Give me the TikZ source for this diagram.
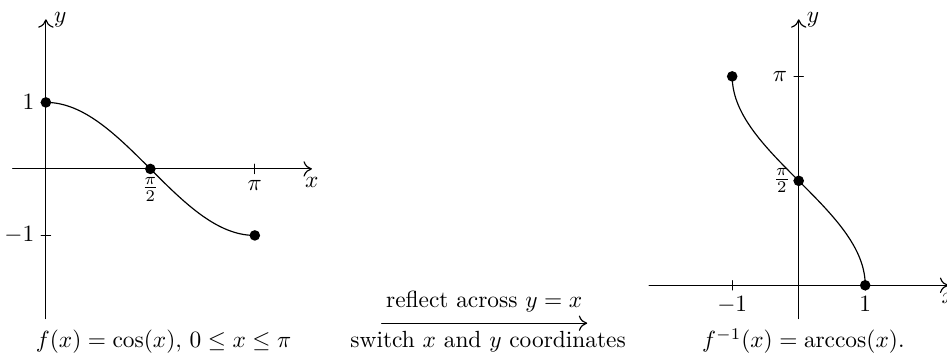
\documentclass[tikz,border=0pt]{standalone}
\usetikzlibrary{arrows.meta}
\begin{document}
\begin{tikzpicture}[>={To[length=3.6pt,width=6.6pt]}, line cap=round, line join=round]

% --- Global TikZ Styles ---
\tikzset{
    axisline/.style={
        ->,
        line width=0.5pt
    },
    graphline/.style={
        line width=0.5pt
    },
    axistick/.style={
        line width=0.5pt
    },
    dotpoint/.style={
        circle,
        fill=black,
        inner sep=1.6pt
    }
}

% vaste afmetingen van het plaatje
\useasboundingbox (-0.69,-2.81) rectangle (13.55,2.54);

% =========================================================================
% --- Links: f(x) = cos(x) ---
% =========================================================================

\pgfmathsetmacro{\tickLen}{0.07}

% --- Assen ---
\coordinate (lxstart) at (-0.5,0);
\coordinate (lxend) at (4,0);
\coordinate (lystart) at (0,-2.25);
\coordinate (lyend) at (0,2.25);

\draw[axisline] (lxstart) -- (lxend);
\draw[axisline] (lystart) -- (lyend);

\node[below] (lxlabel) at (lxend) {$x$};
\node[right] (lylabel) at (lyend) {$y$};

% --- Streepjes ---
\draw[axistick] (-\tickLen,1) -- (\tickLen,1);
\draw[axistick] (-\tickLen,-1) -- (\tickLen,-1);
\draw[axistick] (pi,-\tickLen) -- (pi,\tickLen);

\node[left] (lone) at (-0.05,1) {$1$};
\node[left] (lminone) at (-0.05,-1) {$-1$};
\node[below] (lhalfpi) at ({pi/2},0) {$\frac{\pi}{2}$};
\node[below] (lpi) at (pi,-0.05) {$\pi$};

% --- Grafiek ---
\draw[graphline]
    plot[domain=0:pi, samples=200] (\x, {cos(\x r)});

% --- Punten ---
\node[dotpoint] (lp1) at (0,1) {};
\node[dotpoint] (lp2) at ({pi/2},0) {};
\node[dotpoint] (lp3) at (pi,-1) {};

\node[anchor=base] (lcaption) at (1.77,-2.69)
    {$f(x)=\cos(x),\, 0\leq x\leq \pi$};

% =========================================================================
% --- Midden: de pijl ---
% =========================================================================

\coordinate (arrowstart) at (5.05,-2.32);
\coordinate (arrowend) at (8.14,-2.32);

\draw[->, line width=0.5pt] (arrowstart) -- (arrowend);

\node[anchor=base] (reflectlabel) at (6.59,-2.08)
    {reflect across $y=x$};
\node[anchor=base] (switchlabel) at (6.65,-2.69)
    {switch $x$ and $y$ coordinates};

% =========================================================================
% --- Rechts: f^{-1}(x) = arccos(x) ---
% =========================================================================

\pgfmathsetmacro{\rShiftX}{11.32}
\pgfmathsetmacro{\rShiftY}{-1.75}

% --- Assen ---
\coordinate (rxstart) at ({\rShiftX-2.25},\rShiftY);
\coordinate (rxend) at ({\rShiftX+2.25},\rShiftY);
\coordinate (rystart) at (\rShiftX,{\rShiftY-0.5});
\coordinate (ryend) at (\rShiftX,{\rShiftY+4});

\draw[axisline] (rxstart) -- (rxend);
\draw[axisline] (rystart) -- (ryend);

\node[below] (rxlabel) at (rxend) {$x$};
\node[right] (rylabel) at (ryend) {$y$};

% --- Streepjes ---
\draw[axistick] ({\rShiftX-1},{\rShiftY-\tickLen}) -- ({\rShiftX-1},{\rShiftY+\tickLen});
\draw[axistick] ({\rShiftX+1},{\rShiftY-\tickLen}) -- ({\rShiftX+1},{\rShiftY+\tickLen});
\draw[axistick] ({\rShiftX-\tickLen},{\rShiftY+pi}) -- ({\rShiftX+\tickLen},{\rShiftY+pi});
\draw[axistick] ({\rShiftX-\tickLen},{\rShiftY+pi/2}) -- ({\rShiftX+\tickLen},{\rShiftY+pi/2});

\node[below] (rminone) at ({\rShiftX-1},{\rShiftY-0.05}) {$-1$};
\node[below] (rone) at ({\rShiftX+1},{\rShiftY-0.05}) {$1$};
\node[left] (rpi) at ({\rShiftX-0.05},{\rShiftY+pi}) {$\pi$};
\node[left] (rhalfpi) at (\rShiftX,{\rShiftY+pi/2}) {$\frac{\pi}{2}$};

% --- Grafiek (gespiegeld) ---
\draw[graphline]
    plot[domain=0:pi, samples=200] ({\rShiftX+cos(\x r)}, {\rShiftY+\x});

% --- Punten ---
\node[dotpoint] (rp1) at ({\rShiftX-1},{\rShiftY+pi}) {};
\node[dotpoint] (rp2) at (\rShiftX,{\rShiftY+pi/2}) {};
\node[dotpoint] (rp3) at ({\rShiftX+1},\rShiftY) {};

\node[anchor=base] (rcaption) at (11.39,-2.69)
    {$f^{-1}(x)=\arccos(x)$.};

\end{tikzpicture}
\end{document}
